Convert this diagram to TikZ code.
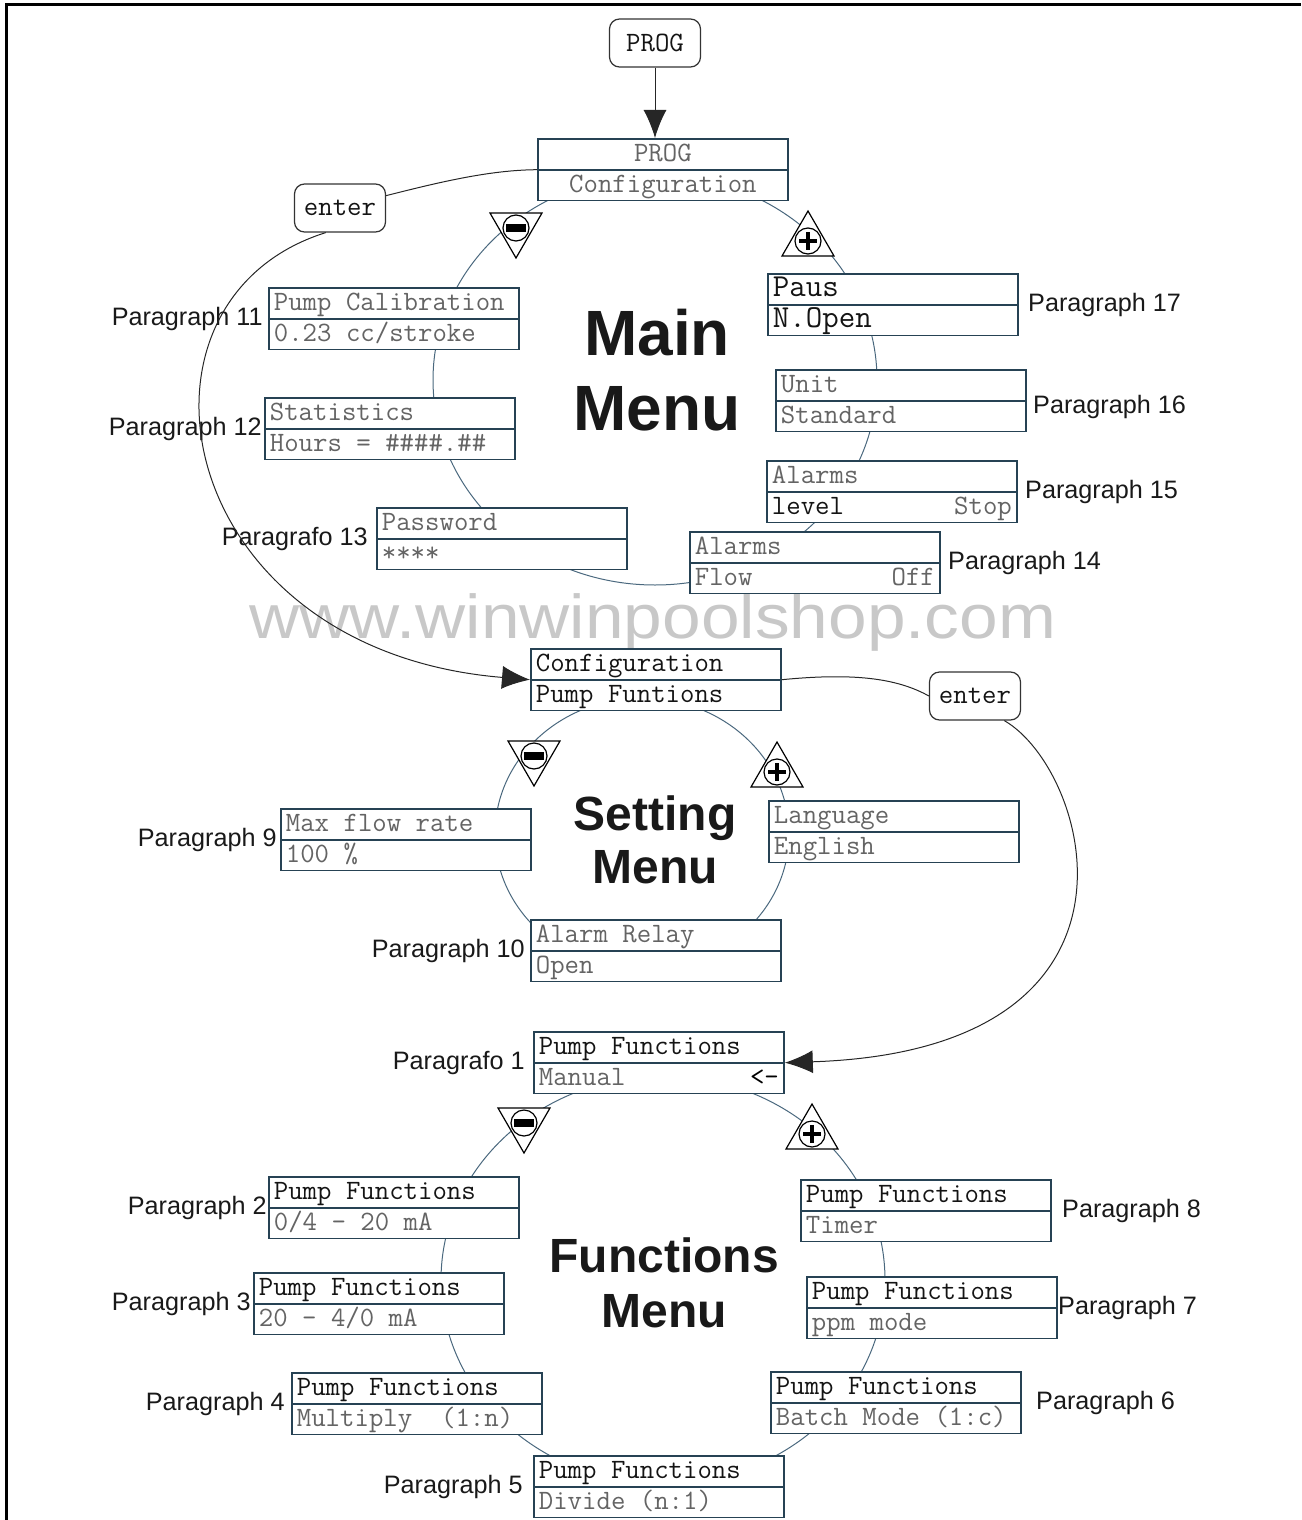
\documentclass[tikz,border=0pt]{standalone}
\usepackage{fontspec}
\setmainfont{Liberation Sans}
\usetikzlibrary{positioning,shapes.multipart,arrows.meta}

\definecolor{lcdframe}{RGB}{38,66,84}
\definecolor{ringcol}{RGB}{74,104,126}
\definecolor{lcdgray}{RGB}{100,100,100}
\definecolor{lcddark}{RGB}{20,20,20}
\definecolor{markcol}{RGB}{200,200,200}

% one row of a display
\newcommand{\lcdstrut}{\rule[-3.8pt]{0pt}{14.5pt}}
\newcommand{\lcdrow}[2][l]{\makebox[120pt][#1]{\lcdstrut#2}}
\newcommand{\faded}[1]{\textcolor{lcdgray}{#1}}
\newcommand{\bigtt}{\fontsize{16}{16}\selectfont}

% minus and plus keys
\newcommand{\minuskey}[1]{%
  \begin{scope}[shift={(#1)}]
    \draw[keyline, fill=white] (-26,-15) -- (26,-15) -- (0,30) -- cycle;
    \draw[keyline, fill=white] (0,0) circle (13);
    \fill[black] (-10,-4) rectangle (10,4);
  \end{scope}}
\newcommand{\pluskey}[1]{%
  \begin{scope}[shift={(#1)}]
    \draw[keyline, fill=white] (-26,15) -- (26,15) -- (0,-30) -- cycle;
    \draw[keyline, fill=white] (0,0) circle (13);
    \fill[black] (-9,-1.8) rectangle (9,1.8);
    \fill[black] (-1.8,-9) rectangle (1.8,9);
  \end{scope}}

\tikzset{
  lcd/.style={rectangle split, rectangle split parts=2, draw=lcdframe,
    line width=0.9pt, fill=white, inner xsep=2.5pt, inner ysep=0pt,
    anchor=north west, font=\ttfamily\fontsize{14}{15}\selectfont, text=lcddark},
  keycap/.style={draw=black!80, line width=0.6pt, rounded corners=5pt,
    minimum width=45.5pt, minimum height=24pt, inner sep=0pt,
    font=\ttfamily\fontsize{14}{15}\selectfont, text=lcddark},
  parlabel/.style={font=\fontsize{12.6}{14}\selectfont, text=black!90, inner sep=0pt},
  menutitle/.style={align=center, text=black!90},
  ring/.style={draw=ringcol, line width=0.5pt},
  connector/.style={draw=black!85, line width=0.5pt},
  bigarrow/.style={-{Latex[length=14pt,width=11.5pt]}},
  keyline/.style={draw=black, line width=0.6pt},
}

\begin{document}
\begin{tikzpicture}[x=0.5pt, y=-0.5pt]
    \useasboundingbox (0,0) rectangle (1301,1520);
    % Frame
    \draw[line width=1.5pt] (6,1520) -- (6,5) -- (1301,5);

    % Watermark
    \node[font=\fontsize{31}{35}\selectfont, text=markcol, inner sep=0pt] (mark) at (653,622) {\scalebox{1.12}[1]{www.winwinpoolshop.com}};

    % Rings
    \draw[ring] (655,380) ellipse [x radius=222, y radius=205];
    \draw[ring] (642,834) ellipse [x radius=147, y radius=136];
    \draw[ring] (663,1280) ellipse [x radius=222, y radius=204];

    % Titles
    \node[menutitle, font=\bfseries\fontsize{32}{37.5}\selectfont] (mainttl) at (657,370) {Main\\Menu};
    \node[menutitle, font=\bfseries\fontsize{24}{26.5}\selectfont] (setttl) at (655,840) {Setting\\Menu};
    \node[menutitle, font=\bfseries\fontsize{24}{27.5}\selectfont] (functtl) at (664,1283) {Functions\\Menu};

    % Keys
    \node[keycap] (progkey) at (655,43) {PROG};
    \node[keycap] (enter1) at (340,208) {enter};
    \node[keycap] (enter2) at (975,696) {enter};

    % Main menu
    \node[lcd] (config) at (537,138) {\lcdrow[c]{\faded{PROG}}\nodepart{two}\lcdrow[c]{\faded{Configuration}}};
    \node[lcd] (calib) at (268,287) {\lcdrow{\faded{Pump Calibration}}\nodepart{two}\lcdrow{\faded{0.23 cc/stroke}}};
    \node[lcd] (stats) at (264,397) {\lcdrow{\faded{Statistics}}\nodepart{two}\lcdrow{\faded{Hours = \#\#\#\#.\#\#}}};
    \node[lcd] (passwd) at (376,507) {\lcdrow{\faded{Password}}\nodepart{two}\lcdrow{\faded{****}}};
    \node[lcd] (paus) at (767,273) {\lcdrow{\bigtt Paus}\nodepart{two}\lcdrow{\bigtt N.Open}};
    \node[lcd] (unit) at (775,369) {\lcdrow{\faded{Unit}}\nodepart{two}\lcdrow{\faded{Standard}}};
    \node[lcd] (alarmlvl) at (766,460) {\lcdrow{\faded{Alarms}}\nodepart{two}\lcdrow{level\hfill\faded{Stop}}};
    \node[lcd] (alarmflow) at (689,531) {\lcdrow{\faded{Alarms}}\nodepart{two}\lcdrow{\faded{Flow}\hfill\faded{Off}}};

    % Setting menu
    \node[lcd] (setconf) at (530,648) {\lcdrow{Configuration}\nodepart{two}\lcdrow{Pump Funtions}};
    \node[lcd] (maxflow) at (280,808) {\lcdrow{\faded{Max flow rate}}\nodepart{two}\lcdrow{\faded{100 \%}}};
    \node[lcd] (language) at (768,800) {\lcdrow{\faded{Language}}\nodepart{two}\lcdrow{\faded{English}}};
    \node[lcd] (relay) at (530,919) {\lcdrow{\faded{Alarm Relay}}\nodepart{two}\lcdrow{\faded{Open}}};

    % Functions menu
    \node[lcd] (pfmanual) at (533,1031) {\lcdrow{Pump Functions}\nodepart{two}\lcdrow{\faded{Manual}\hfill<-}};
    \node[lcd] (pfcurr) at (268,1176) {\lcdrow{Pump Functions}\nodepart{two}\lcdrow{\faded{0/4 - 20 mA}}};
    \node[lcd] (pfinv) at (253,1272) {\lcdrow{Pump Functions}\nodepart{two}\lcdrow{\faded{20 - 4/0 mA}}};
    \node[lcd] (pfmult) at (291,1372) {\lcdrow{Pump Functions}\nodepart{two}\lcdrow{\faded{Multiply~~(1:n)}}};
    \node[lcd] (pfdiv) at (533,1455) {\lcdrow{Pump Functions}\nodepart{two}\lcdrow{\faded{Divide (n:1)}}};
    \node[lcd] (pfbatch) at (770,1371) {\lcdrow{Pump Functions}\nodepart{two}\lcdrow{\faded{Batch Mode (1:c)}}};
    \node[lcd] (pfppm) at (806,1276) {\lcdrow{Pump Functions}\nodepart{two}\lcdrow{\faded{ppm mode}}};
    \node[lcd] (pftimer) at (800,1179) {\lcdrow{Pump Functions}\nodepart{two}\lcdrow{\faded{Timer}}};

    % Plus / minus keys
    \minuskey{516,228}
    \pluskey{808,241}
    \minuskey{534,756}
    \pluskey{777,772}
    \minuskey{524,1123}
    \pluskey{812,1134}

    % Paragraph labels
    \node[parlabel, left=2.5pt of calib] (par11) {Paragraph 11};
    \node[parlabel, left=1pt of stats] (par12) {Paragraph 12};
    \node[parlabel, left=4pt of passwd] (par13) {Paragrafo 13};
    \node[parlabel, right=4.5pt of paus] (par17) {Paragraph 17};
    \node[parlabel, right=3pt of unit, yshift=-3pt] (par16) {Paragraph 16};
    \node[parlabel, right=3.5pt of alarmlvl] (par15) {Paragraph 15};
    \node[parlabel, right=3.5pt of alarmflow] (par14) {Paragraph 14};
    \node[parlabel, left=1.5pt of maxflow] (par9) {Paragraph 9};
    \node[parlabel, left=2.5pt of relay] (par10) {Paragraph 10};
    \node[parlabel, left=4pt of pfmanual] (par1) {Paragrafo 1};
    \node[parlabel, left=0.5pt of pfcurr] (par2) {Paragraph 2};
    \node[parlabel, left=1pt of pfinv] (par3) {Paragraph 3};
    \node[parlabel, left=3pt of pfmult] (par4) {Paragraph 4};
    \node[parlabel, left=5pt of pfdiv] (par5) {Paragraph 5};
    \node[parlabel, right=5pt of pftimer] (par8) {Paragraph 8};
    \node[parlabel, right=0pt of pfppm] (par7) {Paragraph 7};
    \node[parlabel, right=7pt of pfbatch] (par6) {Paragraph 6};

    % Connectors
    \draw[connector, bigarrow] (progkey.south) -- (progkey.south |- config.north);
    \draw[connector] (enter1.15) .. controls (440,182) and (490,170) .. (config.west);
    \draw[connector, bigarrow] (enter1.240) .. controls (110,300) and (170,650) .. (setconf.west);
    \draw[connector] (setconf.east) .. controls (860,672) and (900,680) .. (enter2.west);
    \draw[connector, bigarrow] (enter2.320) .. controls (1090,770) and (1170,1050) .. (pfmanual.east);
\end{tikzpicture}
\end{document}
